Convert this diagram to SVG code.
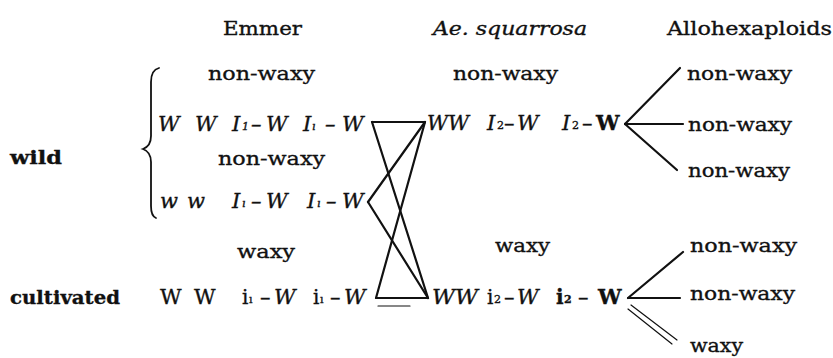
<svg xmlns="http://www.w3.org/2000/svg" width="833" height="358" viewBox="0 0 833 358">
<style>
text{font-family:"DejaVu Serif","Liberation Serif",serif;font-size:19px;fill:#111;stroke:#111;stroke-width:0.35}
.it{font-style:italic}
.b{font-weight:bold}
.g{font-size:21px}
.sub{font-size:11px}
.i{font-size:20px}
line,path{stroke:#111;fill:none;stroke-linecap:round}
.c{stroke-width:2.2}
.t{stroke-width:1.2}
</style>
<rect width="833" height="358" fill="#fff"/>
<g id="headers">
<text x="223" y="35" textLength="79" lengthAdjust="spacingAndGlyphs">Emmer</text>
<text x="433" y="35" class="it" textLength="154" lengthAdjust="spacingAndGlyphs">Ae. squarrosa</text>
<text x="667" y="35" textLength="165" lengthAdjust="spacingAndGlyphs">Allohexaploids</text>
</g>
<g id="labels">
<text x="10" y="164" class="b" textLength="52" lengthAdjust="spacingAndGlyphs">wild</text>
<text x="10" y="304" class="b" textLength="110" lengthAdjust="spacingAndGlyphs">cultivated</text>
</g>
<g id="brace">
<path d="M159,68 Q151,70 151,82 L151,136 Q151,146 143,149 Q151,152 151,162 L151,206 Q151,216 156,218" stroke-width="1.8"/>
</g>
<g id="emmer-wild-1">
<text x="208" y="80" textLength="107" lengthAdjust="spacingAndGlyphs">non-waxy</text>
<text y="131" class="g it"><tspan x="158">W</tspan><tspan x="195">W</tspan><tspan x="232">I</tspan><tspan x="242" y="130" class="sub">1</tspan><tspan x="251" y="131">–</tspan><tspan x="266">W</tspan><tspan x="303">I</tspan><tspan x="312" y="130" class="sub">ı</tspan><tspan x="325" y="131">–</tspan><tspan x="342">W</tspan></text>
</g>
<g id="emmer-wild-2">
<text x="218" y="165" textLength="107" lengthAdjust="spacingAndGlyphs">non-waxy</text>
<text y="208" class="g it"><tspan x="160">w</tspan><tspan x="187">w</tspan><tspan x="232">I</tspan><tspan x="242" y="207" class="sub">ı</tspan><tspan x="251" y="208">–</tspan><tspan x="266">W</tspan><tspan x="307">I</tspan><tspan x="317" y="207" class="sub">ı</tspan><tspan x="326" y="208">–</tspan><tspan x="342">W</tspan></text>
</g>
<g id="emmer-cultivated">
<text x="237" y="258" textLength="58" lengthAdjust="spacingAndGlyphs">waxy</text>
<text y="304" class="g"><tspan x="160">W</tspan><tspan x="194">W</tspan><tspan x="242" class="i">i</tspan><tspan x="249" y="303" class="sub">ı</tspan><tspan x="260" y="304">–</tspan><tspan x="274" class="it">W</tspan><tspan x="313" class="i">i</tspan><tspan x="320" y="303" class="sub">ı</tspan><tspan x="330" y="304">–</tspan><tspan x="344" class="it">W</tspan></text>
</g>
<g id="ae-wild">
<text x="453" y="80" textLength="105" lengthAdjust="spacingAndGlyphs">non-waxy</text>
<text y="130" class="g"><tspan x="427" class="it" textLength="42" lengthAdjust="spacingAndGlyphs">WW</tspan><tspan x="487" class="it">I</tspan><tspan x="497" y="129" class="sub">2</tspan><tspan x="504" y="130">–</tspan><tspan x="517" class="it">W</tspan><tspan x="562" class="it">I</tspan><tspan x="572" y="129" class="sub">2</tspan><tspan x="582" y="130">–</tspan><tspan x="596" class="b">W</tspan></text>
</g>
<g id="ae-cultivated">
<text x="495" y="252" textLength="55" lengthAdjust="spacingAndGlyphs">waxy</text>
<text y="304" class="g"><tspan x="432" class="it" textLength="46" lengthAdjust="spacingAndGlyphs">WW</tspan><tspan x="487" class="i">i</tspan><tspan x="494" y="303" class="sub">2</tspan><tspan x="504" y="304">–</tspan><tspan x="517" class="it">W</tspan><tspan x="556" class="i b">i</tspan><tspan x="564" y="303" class="sub b">2</tspan><tspan x="578" y="304">–</tspan><tspan x="598" class="b">W</tspan></text>
</g>
<g id="allo-wild">
<text x="687" y="80" textLength="105" lengthAdjust="spacingAndGlyphs">non-waxy</text>
<text x="688" y="131" textLength="104" lengthAdjust="spacingAndGlyphs">non-waxy</text>
<text x="688" y="177" textLength="102" lengthAdjust="spacingAndGlyphs">non-waxy</text>
</g>
<g id="allo-cultivated">
<text x="690" y="252" textLength="107" lengthAdjust="spacingAndGlyphs">non-waxy</text>
<text x="690" y="300" textLength="105" lengthAdjust="spacingAndGlyphs">non-waxy</text>
<text x="690" y="352" textLength="53" lengthAdjust="spacingAndGlyphs">waxy</text>
</g>
<g id="connectors">
<line class="c" x1="372" y1="122" x2="425" y2="122"/>
<line class="c" x1="372" y1="122" x2="428" y2="298"/>
<line class="c" x1="368" y1="202" x2="425" y2="122"/>
<line class="c" x1="368" y1="202" x2="428" y2="298"/>
<line class="c" x1="376" y1="298" x2="425" y2="122"/>
<line class="c" x1="376" y1="298" x2="428" y2="298"/>
<line class="t" x1="378" y1="306" x2="410" y2="306"/>
<line class="c" x1="625" y1="124" x2="680" y2="68"/>
<line class="c" x1="625" y1="124" x2="683" y2="124"/>
<line class="c" x1="625" y1="124" x2="677" y2="170"/>
<line class="c" x1="628" y1="298" x2="683" y2="252"/>
<line class="c" x1="628" y1="298" x2="680" y2="298"/>
<line class="t" x1="631" y1="305" x2="677" y2="340"/>
<line class="t" x1="628" y1="309" x2="672" y2="344"/>
</g>
</svg>
